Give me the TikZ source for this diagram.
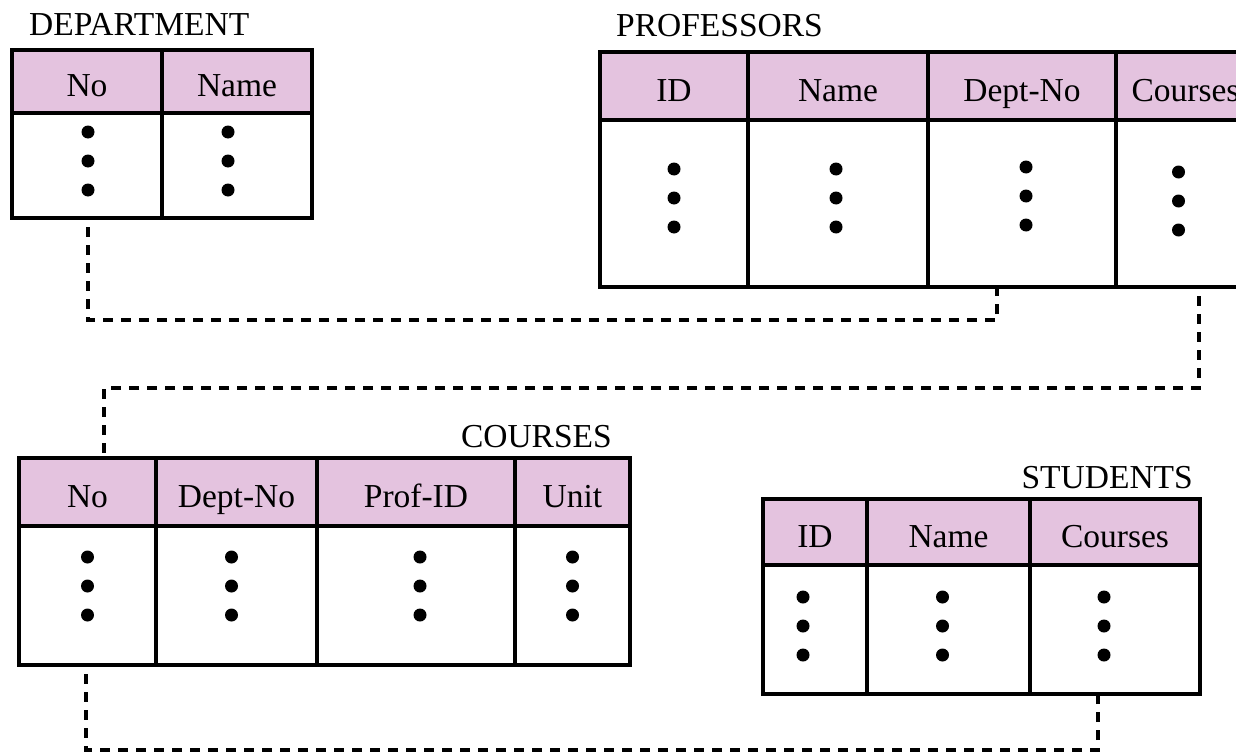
\documentclass[tikz,border=0pt]{standalone}
\usepackage{fontspec}
\setmainfont{Liberation Serif}
\usetikzlibrary{calc}
\definecolor{hdr}{RGB}{228,195,223}
\newcommand\tcol[9]{%
  \node[hcell, minimum width=#4pt, minimum height=#5pt] (#1H) at (#2,#3) {#7};
  \node[cell, minimum width=#4pt, minimum height=#6pt] (#1B) at (#2,#3+#5) {};
  \foreach \k in {0,1,2} {\fill ($(#1B.north)+(#9,#8+\k*29)$) circle (6.5pt);}
}
\begin{document}
\begin{tikzpicture}[x=1pt,y=-1pt,
  every node/.style={font=\fontsize{33.5}{38}\selectfont},
  cell/.style={draw, line width=4.5pt, inner sep=0pt, outer sep=0pt, anchor=north west, text height=36pt, text depth=6pt},
  hcell/.style={cell, fill=hdr},
  conn/.style={line width=4pt, dash pattern=on 10pt off 8pt, dash phase=9pt},
  title/.style={inner sep=0pt}]
\useasboundingbox (0,0) rectangle (1236,752);
\clip (0,0) rectangle (1236,752);
\fill[white] (0,0) rectangle (1236,752);

% DEPARTMENT
\node[title, anchor=base west] (tDept) at (29,36) {DEPARTMENT};
\tcol{dNo}{12}{50}{150}{63}{105}{No}{19}{1}
\tcol{dNa}{162}{50}{150}{63}{105}{Name}{19}{-9}

% PROFESSORS
\node[title, anchor=base west] (tProf) at (616,37) {PROFESSORS};
\tcol{pID}{600}{52}{148}{68}{167}{ID}{49}{0}
\tcol{pNa}{748}{52}{180}{68}{167}{Name}{49}{-2}
\tcol{pDn}{928}{52}{188}{68}{167}{Dept-No}{47}{4}
\tcol{pCo}{1116}{52}{139}{68}{167}{Courses}{52}{-7}

% COURSES
\node[title, anchor=base east] (tCour) at (612,447) {COURSES};
\tcol{cNo}{19}{458}{137}{68}{139}{No}{31}{0}
\tcol{cDn}{156}{458}{161}{68}{139}{Dept-No}{31}{-5}
\tcol{cPi}{317}{458}{198}{68}{139}{Prof-ID}{31}{4}
\tcol{cUn}{515}{458}{115}{68}{139}{Unit}{31}{0}

% STUDENTS
\node[title, anchor=base east] (tStud) at (1193,488) {STUDENTS};
\tcol{sID}{763}{499}{104}{66}{129}{ID}{32}{-12}
\tcol{sNa}{867}{499}{163}{66}{129}{Name}{32}{-6}
\tcol{sCo}{1030}{499}{170}{66}{129}{Courses}{32}{-11}

% connectors
\coordinate (b1) at (88,320);
\coordinate (b2) at (1199,388);
\coordinate (b3) at (86,750);
\draw[conn] ([xshift=1pt]dNoB.south) -- (b1) -| ([xshift=-25pt]pDnB.south);
\draw[conn] ([xshift=13.5pt]pCoB.south) -- (b2) -| ([xshift=16.5pt]cNoH.north);
\draw[conn] ([xshift=-1.5pt]cNoB.south) -- (b3) -| ([xshift=-17pt]sCoB.south);
\end{tikzpicture}
\end{document}
